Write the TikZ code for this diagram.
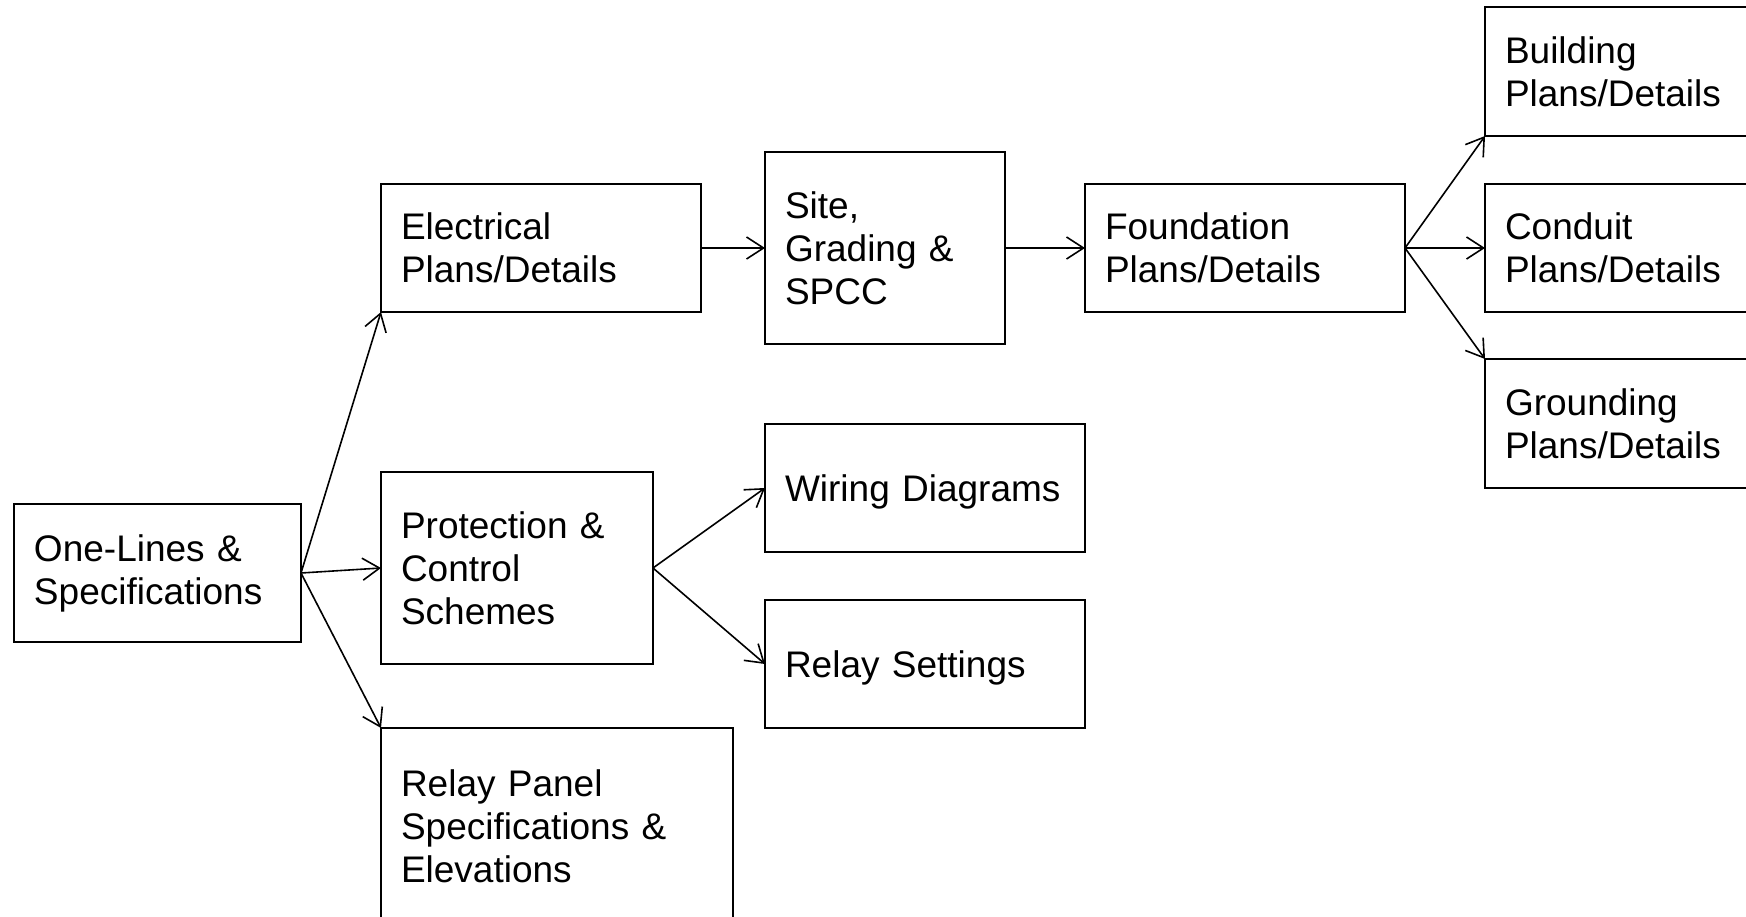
\documentclass[tikz,border=0pt]{standalone}
\usepackage{fontspec}
\setmainfont{Liberation Sans}
\usetikzlibrary{arrows.meta}
\tikzset{
  boxnode/.style={draw, line width=2pt, rectangle, anchor=north west, outer sep=0pt,
    inner xsep=20pt, inner ysep=0pt, align=left, font=\fontsize{37}{43}\selectfont},
  conn/.style={line width=1.6pt, -{Straight Barb[length=17pt,width=22pt,line width=1.6pt]}}
}
\begin{document}
\begin{tikzpicture}[x=1pt,y=-1pt]
\useasboundingbox (0,0) rectangle (1746,916);
\clip (0,0) rectangle (1746,916);
\node[boxnode, text width=247pt, minimum width=287pt, minimum height=138pt] (one) at (14,504) {One-Lines \&\\Specifications};
\node[boxnode, text width=280pt, minimum width=320pt, minimum height=128pt] (elec) at (381,184) {Electrical\\Plans/Details};
\node[boxnode, text width=200pt, minimum width=240pt, minimum height=192pt] (site) at (765,152) {Site,\\Grading \&\\SPCC};
\node[boxnode, text width=280pt, minimum width=320pt, minimum height=128pt] (found) at (1085,184) {Foundation\\Plans/Details};
\node[boxnode, text width=250pt, minimum width=290pt, minimum height=129pt] (build) at (1485,7) {Building\\Plans/Details};
\node[boxnode, text width=250pt, minimum width=290pt, minimum height=128pt] (cond) at (1485,184) {Conduit\\Plans/Details};
\node[boxnode, text width=250pt, minimum width=290pt, minimum height=129pt] (ground) at (1485,359) {Grounding\\Plans/Details};
\node[boxnode, text width=232pt, minimum width=272pt, minimum height=192pt] (prot) at (381,472) {Protection \&\\Control\\Schemes};
\node[boxnode, text width=280pt, text depth=0pt, minimum width=320pt, minimum height=128pt] (wire) at (765,424) {Wiring Diagrams};
\node[boxnode, text width=280pt, text depth=0pt, minimum width=320pt, minimum height=128pt] (rset) at (765,600) {Relay Settings};
\node[boxnode, text width=312pt, minimum width=352pt, minimum height=196pt] (panel) at (381,728) {Relay Panel\\Specifications \&\\Elevations};
\draw[conn] (one.east) -- (elec.south west);
\draw[conn] (one.east) -- (prot.west);
\draw[conn] (one.east) -- (panel.north west);
\draw[conn] (prot.east) -- (wire.west);
\draw[conn] (prot.east) -- (rset.west);
\draw[conn] (elec.east) -- (site.west);
\draw[conn] (site.east) -- (found.west);
\draw[conn] (found.east) -- (build.south west);
\draw[conn] (found.east) -- (cond.west);
\draw[conn] (found.east) -- (ground.north west);
\end{tikzpicture}
\end{document}
